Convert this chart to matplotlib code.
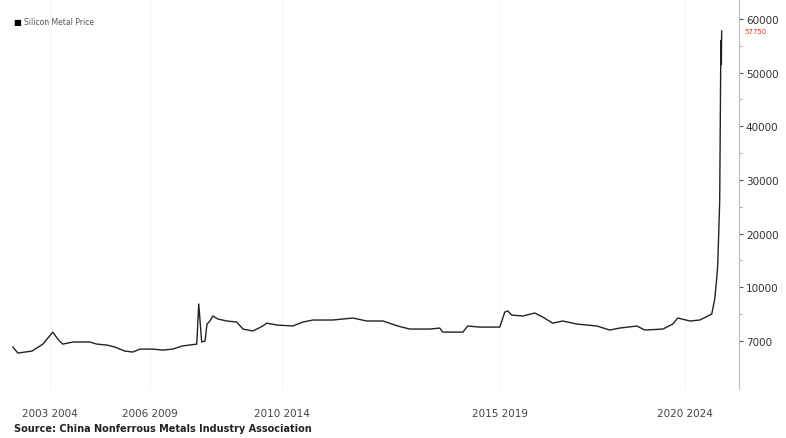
import numpy as np
import matplotlib
matplotlib.use('Agg')
import matplotlib.pyplot as plt

# === 1. Data (year, price) ===
years = [2003.03, 2003.18, 2003.61, 2003.94, 2004.24, 2004.39, 2004.54, 2004.85,
         2005.36, 2005.57, 2005.88, 2006.12, 2006.42, 2006.66, 2006.88, 2007.27,
         2007.57, 2007.88, 2008.15, 2008.60, 2008.66, 2008.75, 2008.85, 2008.91,
         2009.00, 2009.09, 2009.24, 2009.51, 2009.81, 2010.00, 2010.30, 2010.60,
         2010.72, 2011.03, 2011.51, 2011.81, 2012.12, 2012.72, 2013.33, 2013.75,
         2014.24, 2014.69, 2015.05, 2015.66, 2015.96, 2016.05, 2016.66, 2016.81,
         2017.17, 2017.78, 2017.93, 2018.02, 2018.14, 2018.48, 2018.84, 2019.08,
         2019.38, 2019.69, 2020.11, 2020.72, 2021.11, 2021.41, 2021.93, 2022.17,
         2022.72, 2023.02, 2023.17, 2023.54, 2023.84, 2024.20, 2024.29, 2024.35,
         2024.38, 2024.44, 2024.47, 2024.48, 2024.49, 2024.50]
prices = [6665, 6330, 6440, 6830, 7500, 7110, 6830, 6945,
          6945, 6830, 6775, 6665, 6440, 6385, 6550, 6550,
          6495, 6550, 6720, 6830, 9070, 6945, 7000, 7950,
          8120, 8400, 8230, 8120, 8060, 7670, 7560, 7840,
          8000, 7895, 7840, 8060, 8175, 8175, 8285, 8120,
          8120, 7840, 7670, 7670, 7725, 7500, 7500, 7840,
          7780, 7780, 8620, 8680, 8450, 8400, 8565, 8340,
          8000, 8120, 7950, 7840, 7615, 7725, 7840, 7615,
          7670, 7950, 8285, 8120, 8175, 8510, 9350, 11680,
          14100, 26000, 50780, 56000, 51500, 57750]
last_label = '57750'

y_ticks = [7000, 10000, 20000, 30000, 40000, 50000, 60000]
y_labels = ['7000', '10000', '20000', '30000', '40000', '50000', '60000']

x_tick_pos = [2004.15, 2007.18, 2011.18, 2017.78, 2023.38]
x_labels = ['2003 2004', '2006 2009', '2010 2014', '2015 2019', '2020 2024']

# === 2. Odd axis: labels are evenly spaced ===
step_pos = np.arange(len(y_ticks), dtype=float)


def fwd(v):
    v = np.asarray(v, dtype=float)
    out = np.interp(v, y_ticks, step_pos)
    out = np.where(v < y_ticks[0], (v - y_ticks[0]) / 3000.0, out)
    out = np.where(v > y_ticks[-1], step_pos[-1] + (v - y_ticks[-1]) / 10000.0, out)
    return out


def inv(p):
    p = np.asarray(p, dtype=float)
    out = np.interp(p, step_pos, y_ticks)
    out = np.where(p < 0, y_ticks[0] + p * 3000.0, out)
    out = np.where(p > step_pos[-1], y_ticks[-1] + (p - step_pos[-1]) * 10000.0, out)
    return out


# === 3. Plot ===
fig = plt.figure(figsize=(7.86, 4.39), dpi=100)
ax = fig.add_axes([0.0, 0.112, 0.940, 0.888])
ax.set_yscale('function', functions=(fwd, inv))
ax.plot(years, prices, color='#222222', linewidth=1.0)

ax.set_xlim(2002.64, 2025.02)
ax.set_ylim(4330, 63700)

ax.yaxis.tick_right()
ax.set_yticks(y_ticks)
ax.set_yticklabels(y_labels, fontsize=7.5, color='#333333')
ax.set_yticks(inv(step_pos[:-1] + 0.5), minor=True)
ax.tick_params(axis='y', which='major', length=3, color='#555555', pad=2)
ax.tick_params(axis='y', which='minor', length=2, color='#999999')

ax.set_xticks(x_tick_pos)
ax.set_xticklabels(x_labels, fontsize=7.5, color='#444444')
ax.tick_params(axis='x', length=0, pad=14)
ax.grid(axis='x', color='#f4f4f4', linewidth=0.8)

for s in ['top', 'left', 'bottom']:
    ax.spines[s].set_visible(False)
ax.spines['right'].set_color('#bbbbbb')
ax.spines['right'].set_linewidth(0.8)

# last value label
ax.annotate(last_label, xy=(1.0, 57750), xycoords=('axes fraction', 'data'),
            xytext=(4, 0), textcoords='offset points', fontsize=5,
            color='#e03030', va='center')

# === 4. Legend and source ===
fig.text(0.017, 0.948, '\u25a0', fontsize=6, color='black', va='center')
fig.text(0.030, 0.948, 'Silicon Metal Price', fontsize=5.5, color='#555555', va='center')
fig.text(0.018, 0.016, 'Source: China Nonferrous Metals Industry Association',
         fontsize=7, fontweight='bold', color='#222222')

fig.savefig('out.png', dpi=100)
